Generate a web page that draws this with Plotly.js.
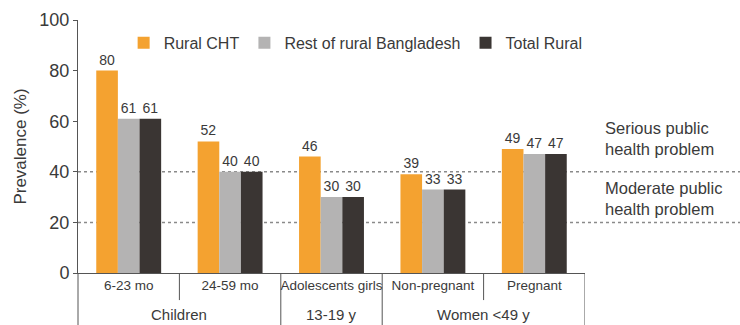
<!DOCTYPE html>
<html>
<head>
<meta charset="utf-8">
<script src="https://cdn.plot.ly/plotly-3.0.1.min.js"></script>
<style>html,body{margin:0;padding:0;background:#fff;}#chart{width:740px;height:325px;}</style>
</head>
<body>
<div id="chart"></div>
<script>
var categories = ["6-23 mo", "24-59 mo", "Adolescents girls", "Non-pregnant", "Pregnant"];
var seriesNames = ["Rural CHT", "Rest of rural Bangladesh", "Total Rural"];
var ruralCHT = [80, 52, 46, 39, 49];
var restRural = [61, 40, 30, 33, 47];
var totalRural = [61, 40, 30, 33, 47];
var groupLabels = ["Children", "13-19 y", "Women <49 y"];
var groupCenters = [0.5, 2, 3.5];
var fullDividers = [1.5, 2.5, 4.5];
var shortDividers = [0.5, 3.5];
var thresholds = [40, 20];
var thresholdNotes = ["Serious public<br>health problem", "Moderate public<br>health problem"];
var thresholdNoteY = [53, 29.5];

var colors = ["#F4A230", "#B4B3B3", "#3A3533"];
var FONT = "Liberation Sans, Arial, sans-serif";
var TXT = "#3a3a3a";

var allSeries = [ruralCHT, restRural, totalRural];
var data = allSeries.map(function (vals, i) {
  return {
    type: "bar",
    name: seriesNames[i],
    x: categories,
    y: vals,
    marker: {color: colors[i]},
    text: vals.map(String),
    textposition: "outside",
    cliponaxis: false,
    textfont: {family: FONT, size: 14, color: TXT}
  };
});

var shapes = [];
thresholds.forEach(function (t) {
  shapes.push({type: "line", xref: "paper", yref: "y", x0: 0, x1: 1.31, y0: t, y1: t,
    line: {color: "#8a8a8a", width: 1.5, dash: "dot"}, layer: "below"});
});
shapes.push({type: "line", xref: "paper", yref: "paper", x0: 0, x1: 0, y0: 0, y1: -0.21,
  line: {color: "#555", width: 1}});
fullDividers.forEach(function (d) {
  shapes.push({type: "line", xref: "x", yref: "paper", x0: d, x1: d, y0: 0, y1: -0.21,
    line: {color: "#555", width: 1}});
});
shortDividers.forEach(function (d) {
  shapes.push({type: "line", xref: "x", yref: "paper", x0: d, x1: d, y0: 0, y1: -0.107,
    line: {color: "#555", width: 1}});
});

var annotations = [];
groupLabels.forEach(function (g, i) {
  annotations.push({text: g, x: groupCenters[i], xref: "x", y: -0.165, yref: "paper",
    showarrow: false, font: {family: FONT, size: 15, color: TXT}, xanchor: "center", yanchor: "middle"});
});
thresholdNotes.forEach(function (n, i) {
  annotations.push({text: n, x: 1.035, xref: "paper", y: thresholdNoteY[i], yref: "y",
    showarrow: false, align: "left", xanchor: "left", yanchor: "middle",
    font: {family: FONT, size: 16.5, color: TXT}});
});

var layout = {
  width: 740, height: 325,
  margin: {l: 78, r: 155, t: 20, b: 52},
  paper_bgcolor: "#fff", plot_bgcolor: "#fff",
  font: {family: FONT, color: TXT},
  barmode: "group",
  bargap: 0.36,
  bargroupgap: 0,
  showlegend: true,
  legend: {orientation: "h", x: 0.09, xanchor: "left", y: 0.91, yanchor: "middle",
    font: {family: FONT, size: 16, color: TXT}, itemwidth: 30, bgcolor: "rgba(0,0,0,0)"},
  xaxis: {type: "category", range: [-0.5, 4.5], showline: true, linecolor: "#555", linewidth: 1,
    ticks: "", showgrid: false, zeroline: false, fixedrange: true, tickangle: 0,
    tickfont: {family: FONT, size: 13.5, color: TXT}},
  yaxis: {range: [0, 100], tickvals: [0, 20, 40, 60, 80, 100], showline: true, linecolor: "#555",
    linewidth: 1, ticks: "outside", ticklen: 4, tickcolor: "#555", showgrid: false, zeroline: false,
    tickfont: {family: FONT, size: 18, color: TXT},
    title: {text: "Prevalence (%)", font: {family: FONT, size: 17, color: TXT}, standoff: 8}},
  shapes: shapes,
  annotations: annotations
};

Plotly.newPlot("chart", data, layout, {displayModeBar: false, staticPlot: true});
</script>
</body>
</html>
